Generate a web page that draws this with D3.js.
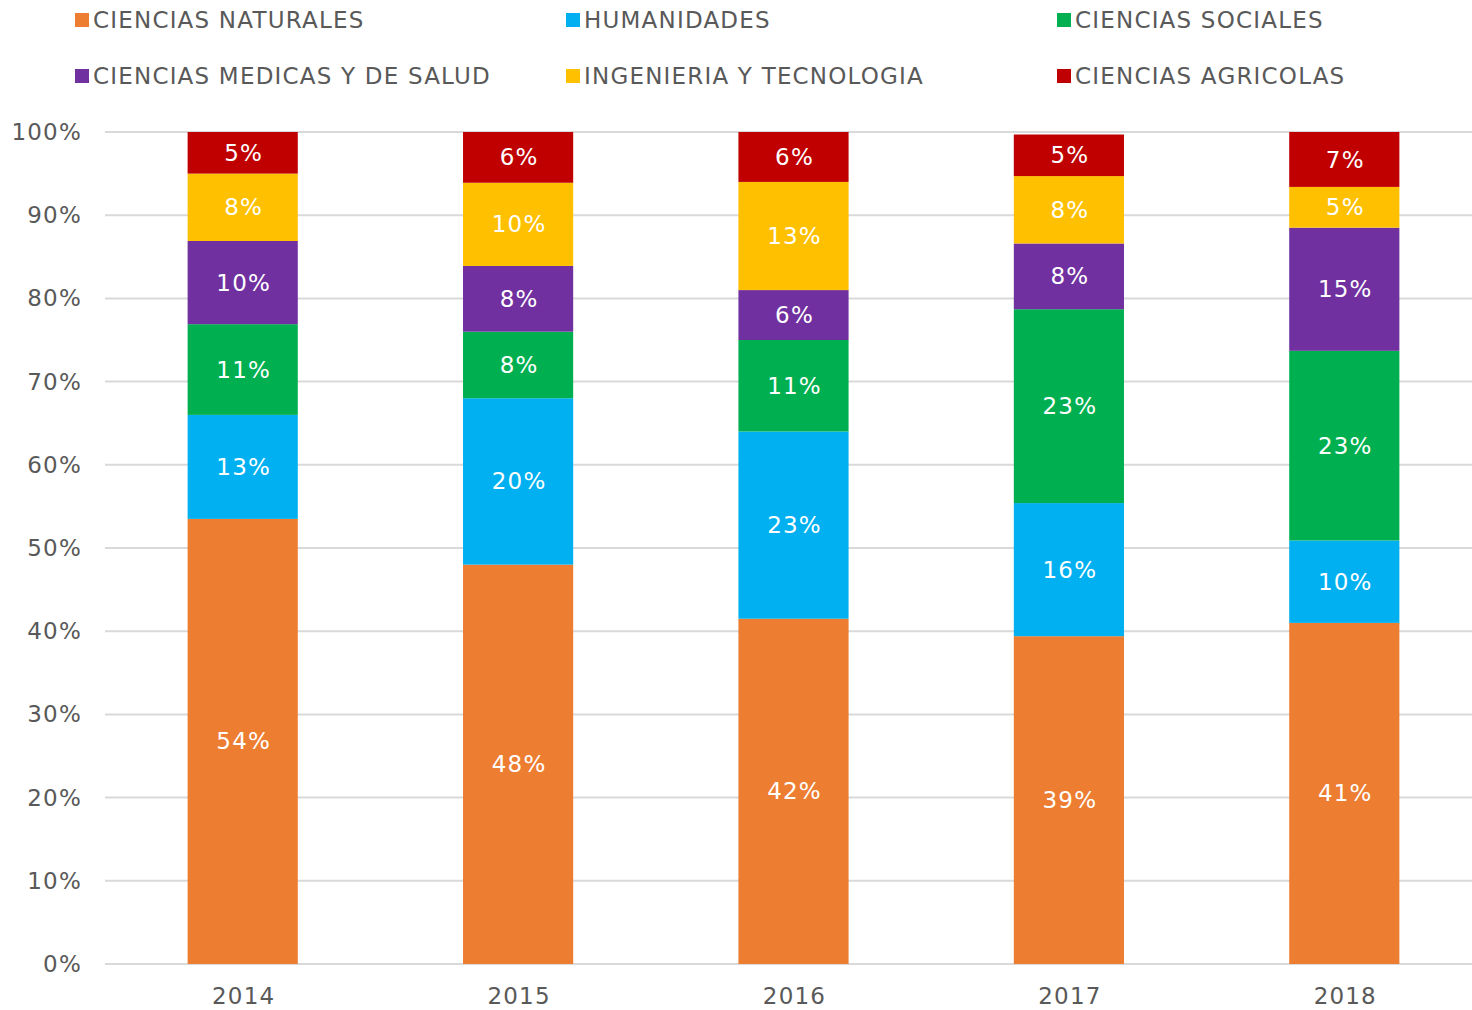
<!DOCTYPE html>
<html>
<head>
<meta charset="utf-8">
<script src="https://cdn.jsdelivr.net/npm/d3@7"></script>
<style>
  body { margin: 0; background: #fff; }
  svg text { font-family: "DejaVu Sans", Verdana, sans-serif; font-size: 23px; letter-spacing: 1.2px; }
</style>
</head>
<body>
<div id="chart"></div>
<script>
// data (percent of each year's total)
var years = ["2014", "2015", "2016", "2017", "2018"];
var categories = ["CIENCIAS NATURALES", "HUMANIDADES", "CIENCIAS SOCIALES",
                  "CIENCIAS MEDICAS Y DE SALUD", "INGENIERIA Y TECNOLOGIA", "CIENCIAS AGRICOLAS"];
var naturales = [53.5, 48.0, 41.5, 39.4, 41.0];
var humanidades = [12.5, 20.0, 22.5, 16.0, 9.9];
var sociales = [10.9, 8.0, 11.0, 23.3, 22.8];
var medicas = [10.0, 7.9, 6.0, 7.9, 14.8];
var ingenieria = [8.1, 10.0, 13.0, 8.1, 4.9];
var agricolas = [5.0, 6.1, 6.0, 5.0, 6.6];
var yTicks = [0, 10, 20, 30, 40, 50, 60, 70, 80, 90, 100];

var colors = ["#ED7D31", "#00B0F0", "#00B050", "#7030A0", "#FFC000", "#C00000"];
var series = [naturales, humanidades, sociales, medicas, ingenieria, agricolas];

var width = 1472, height = 1010;
var textColor = "#595959";

var rows = years.map(function(y, i) {
  var r = { year: y };
  categories.forEach(function(c, k) { r[c] = series[k][i]; });
  return r;
});

var stacked = d3.stack().keys(categories)(rows);

var x = d3.scaleBand().domain(years).range([105, 1482]).paddingInner(0.6).paddingOuter(0.3);
var y = d3.scaleLinear().domain([0, 100]).range([964, 132]);

var svg = d3.select("#chart").append("svg")
    .attr("width", width)
    .attr("height", height);

// gridlines
svg.append("g").selectAll("line")
  .data(yTicks)
  .enter().append("line")
    .attr("x1", 105).attr("x2", width)
    .attr("y1", function(d) { return y(d); })
    .attr("y2", function(d) { return y(d); })
    .attr("stroke", "#D9D9D9")
    .attr("stroke-width", 2);

// y axis labels
svg.append("g").selectAll("text")
  .data(yTicks)
  .enter().append("text")
    .attr("x", 82)
    .attr("y", function(d) { return y(d); })
    .attr("dy", "0.35em")
    .attr("text-anchor", "end")
    .style("fill", textColor)
    .text(function(d) { return d + "%"; });

// bars
var layer = svg.append("g").selectAll("g")
  .data(stacked)
  .enter().append("g")
    .attr("fill", function(d, i) { return colors[i]; });

layer.selectAll("rect")
  .data(function(d) { return d; })
  .enter().append("rect")
    .attr("x", function(d) { return x(d.data.year); })
    .attr("width", x.bandwidth())
    .attr("y", function(d) { return y(d[1]); })
    .attr("height", function(d) { return y(d[0]) - y(d[1]); });

layer.selectAll("text")
  .data(function(d) { return d; })
  .enter().append("text")
    .attr("x", function(d) { return x(d.data.year) + x.bandwidth() / 2 + 1; })
    .attr("y", function(d) { return (y(d[0]) + y(d[1])) / 2; })
    .attr("dy", "0.35em")
    .attr("text-anchor", "middle")
    .style("fill", "#fff")
    .text(function(d) { return Math.round(d[1] - d[0]) + "%"; });

// x axis labels
svg.append("g").selectAll("text")
  .data(years)
  .enter().append("text")
    .attr("x", function(d) { return x(d) + x.bandwidth() / 2 + 1; })
    .attr("y", 996)
    .attr("dy", "0.35em")
    .attr("text-anchor", "middle")
    .style("fill", textColor)
    .text(function(d) { return d; });

// legend, two rows of three
var legend = svg.append("g").selectAll("g")
  .data(categories)
  .enter().append("g")
    .attr("transform", function(d, i) {
      return "translate(" + (75 + (i % 3) * 491) + "," + (20 + Math.floor(i / 3) * 56) + ")";
    });

legend.append("rect")
    .attr("x", 0).attr("y", -7)
    .attr("width", 14).attr("height", 14)
    .attr("fill", function(d, i) { return colors[i]; });

legend.append("text")
    .attr("x", 18)
    .attr("dy", "0.35em")
    .style("fill", textColor)
    .text(function(d) { return d; });
</script>
</body>
</html>
